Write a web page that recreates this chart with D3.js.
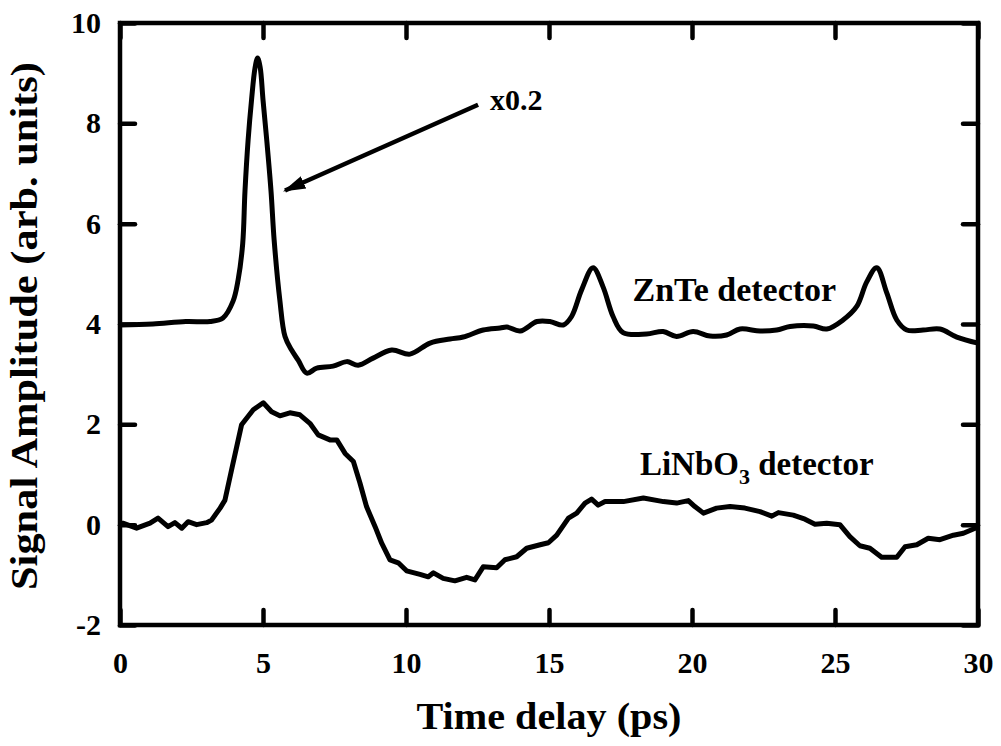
<!DOCTYPE html>
<html>
<head>
<meta charset="utf-8">
<script src="https://cdn.jsdelivr.net/npm/d3@7"></script>
<style>
  html, body { margin: 0; padding: 0; background: #fff; }
  svg text { font-family: "Liberation Serif", "Times New Roman", serif; font-weight: bold; fill: #000; }
</style>
</head>
<body>
<div id="chart"></div>
<script>
// ZnTe trace (shown offset by +4, peak scaled x0.2)
const znteTime = [0, 1.15, 2.3, 3.15, 3.6, 3.95, 4.13, 4.29, 4.37, 4.48, 4.6, 4.72, 4.81, 4.9, 5.0, 5.13, 5.28, 5.39, 5.59, 5.77,
  6.0, 6.23, 6.53, 6.88, 7.45, 7.93, 8.33, 8.85, 9.5, 10.14, 10.84, 11.54, 12.0, 12.7, 13.29, 13.53, 13.99, 14.58, 15.03, 15.5,
  15.79, 16.14, 16.54, 16.89, 17.24, 17.59, 18.41, 18.99, 19.46, 20.04, 20.63, 21.21, 21.68, 22.38, 22.96, 23.43, 24.24, 24.71,
  25.28, 25.76, 26.11, 26.46, 26.81, 27.16, 27.51, 28.08, 28.67, 29.26, 30];
const znteAmp = [3.98, 4.0, 4.05, 4.05, 4.12, 4.45, 4.88, 5.6, 6.65, 7.67, 8.47, 9.1, 9.3, 9.12, 8.47, 7.67, 6.65, 5.67, 4.47, 3.75,
  3.48, 3.28, 3.02, 3.12, 3.16, 3.25, 3.18, 3.32, 3.48, 3.4, 3.62, 3.7, 3.74, 3.88, 3.92, 3.94, 3.86, 4.05, 4.05, 3.98,
  4.15, 4.68, 5.12, 4.74, 4.15, 3.83, 3.8, 3.85, 3.75, 3.85, 3.76, 3.78, 3.9, 3.86, 3.88, 3.95, 3.96, 3.9,
  4.08, 4.35, 4.84, 5.12, 4.62, 4.08, 3.88, 3.88, 3.9, 3.74, 3.62];

// LiNbO3 trace
const linbTime = [0, 0.1, 0.58, 1.05, 1.33, 1.68, 1.92, 2.16, 2.38, 2.68, 3.03, 3.2, 3.5, 3.67, 3.9, 4.25, 4.66, 5.01, 5.3, 5.59,
  5.94, 6.29, 6.64, 6.93, 7.34, 7.58, 7.87, 8.16, 8.39, 8.62, 8.92, 9.15, 9.44, 9.73, 10.02, 10.49, 10.78, 10.96, 11.3, 11.71,
  12.12, 12.41, 12.7, 13.17, 13.46, 13.87, 14.22, 14.69, 14.98, 15.27, 15.68, 15.97, 16.26, 16.49, 16.72, 16.96, 17.6, 18.3,
  19.0, 19.46, 19.87, 20.1, 20.4, 20.86, 21.33, 21.85, 22.38, 22.79, 23.02, 23.54, 23.95, 24.3, 24.71, 25.17, 25.52, 25.87,
  26.22, 26.63, 27.16, 27.45, 27.86, 28.26, 28.67, 29.14, 29.49, 29.9, 30];
const linbAmp = [0.02, 0.03, -0.07, 0.03, 0.13, -0.04, 0.04, -0.07, 0.06, 0, 0.04, 0.09, 0.33, 0.49, 1.09, 1.99, 2.29, 2.43, 2.25, 2.17,
  2.23, 2.19, 2.02, 1.79, 1.69, 1.69, 1.42, 1.26, 0.83, 0.36, -0.04, -0.37, -0.7, -0.76, -0.92, -0.99, -1.04, -0.96, -1.07, -1.12,
  -1.05, -1.1, -0.84, -0.86, -0.7, -0.64, -0.47, -0.4, -0.36, -0.21, 0.13, 0.23, 0.43, 0.51, 0.39, 0.46, 0.46, 0.53,
  0.46, 0.43, 0.48, 0.36, 0.23, 0.33, 0.36, 0.33, 0.26, 0.17, 0.24, 0.19, 0.11, 0.01, 0.03, 0, -0.24, -0.42,
  -0.47, -0.65, -0.65, -0.44, -0.4, -0.27, -0.3, -0.21, -0.17, -0.07, -0.06];

const xTicks = [0, 5, 10, 15, 20, 25, 30];
const yTicks = [-2, 0, 2, 4, 6, 8, 10];

const width = 1001;
const height = 746;
const margin = { top: 23, right: 23, bottom: 121, left: 120 };
const innerW = width - margin.left - margin.right;
const innerH = height - margin.top - margin.bottom;
const tickLen = 15;
const axisStroke = 4.5;

const svg = d3.select('#chart').append('svg')
  .attr('width', width)
  .attr('height', height);

const g = svg.append('g').attr('transform', `translate(${margin.left},${margin.top})`);

const x = d3.scaleLinear().domain([0, 30]).range([0, innerW]);
const y = d3.scaleLinear().domain([-2, 10]).range([innerH, 0]);

/* ---- axes: ticks point inward on all four sides ---- */
function styleAxis(sel) {
  sel.select('.domain').remove();
  sel.selectAll('.tick line')
    .attr('stroke', '#000')
    .attr('stroke-width', axisStroke)
    .attr('stroke-linecap', 'round');
  sel.selectAll('.tick text').style('font-size', '30px');
}

const plain = (d) => String(d); // hyphen minus, like the original

g.append('g').attr('transform', `translate(0,${innerH})`)
  .call(d3.axisBottom(x).tickValues(xTicks).tickFormat(plain).tickSizeInner(-tickLen).tickSizeOuter(0).tickPadding(27))
  .call(styleAxis);

g.append('g')
  .call(d3.axisTop(x).tickValues(xTicks).tickSizeInner(-tickLen).tickSizeOuter(0).tickFormat(''))
  .call(styleAxis);

g.append('g')
  .call(d3.axisLeft(y).tickValues(yTicks).tickFormat(plain).tickSizeInner(-tickLen).tickSizeOuter(0).tickPadding(19))
  .call(styleAxis);

g.append('g').attr('transform', `translate(${innerW},0)`)
  .call(d3.axisRight(y).tickValues(yTicks).tickSizeInner(-tickLen).tickSizeOuter(0).tickFormat(''))
  .call(styleAxis);

// frame
g.append('rect')
  .attr('width', innerW)
  .attr('height', innerH)
  .attr('fill', 'none')
  .attr('stroke', '#000')
  .attr('stroke-width', axisStroke);

/* ---- traces ---- */
const znte = znteTime.map((t, i) => ({ t, v: znteAmp[i] }));
const linb = linbTime.map((t, i) => ({ t, v: linbAmp[i] }));

const smooth = d3.line().x((d) => x(d.t)).y((d) => y(d.v)).curve(d3.curveCatmullRom.alpha(0.5));
const rough = d3.line().x((d) => x(d.t)).y((d) => y(d.v));

g.append('path').datum(znte)
  .attr('d', smooth)
  .attr('fill', 'none')
  .attr('stroke', '#000')
  .attr('stroke-width', 5)
  .attr('stroke-linejoin', 'round');

g.append('path').datum(linb)
  .attr('d', rough)
  .attr('fill', 'none')
  .attr('stroke', '#000')
  .attr('stroke-width', 5)
  .attr('stroke-linejoin', 'round');

/* ---- annotations ---- */
svg.append('defs').append('marker')
  .attr('id', 'head')
  .attr('viewBox', '0 0 10 10')
  .attr('refX', 9)
  .attr('refY', 5)
  .attr('markerWidth', 5)
  .attr('markerHeight', 5)
  .attr('markerUnits', 'strokeWidth')
  .attr('orient', 'auto')
  .append('path')
  .attr('d', 'M0,2 L10,5 L0,8 Z')
  .attr('fill', '#000');

g.append('line')
  .attr('x1', x(12.52)).attr('y1', y(8.37))
  .attr('x2', x(5.77)).attr('y2', y(6.66))
  .attr('stroke', '#000')
  .attr('stroke-width', 4.5)
  .attr('marker-end', 'url(#head)');

g.append('text')
  .attr('x', x(12.94)).attr('y', y(8.26))
  .style('font-size', '30px')
  .text('x0.2');

g.append('text')
  .attr('x', x(17.92)).attr('y', y(4.45))
  .style('font-size', '34px')
  .text('ZnTe detector');

const lab = g.append('text')
  .attr('x', x(18.18)).attr('y', y(0.99))
  .style('font-size', '33px');
lab.append('tspan').text('LiNbO');
lab.append('tspan').attr('dy', 9).style('font-size', '22px').text('3');
lab.append('tspan').attr('dy', -9).text(' detector');

// axis titles
svg.append('text')
  .attr('x', margin.left + innerW / 2)
  .attr('y', 729)
  .attr('text-anchor', 'middle')
  .attr('textLength', 265)
  .attr('lengthAdjust', 'spacingAndGlyphs')
  .style('font-size', '37px')
  .text('Time delay (ps)');

svg.append('text')
  .attr('transform', `translate(37,${margin.top + innerH / 2 + 2}) rotate(-90)`)
  .attr('text-anchor', 'middle')
  .attr('textLength', 528)
  .attr('lengthAdjust', 'spacingAndGlyphs')
  .style('font-size', '37px')
  .text('Signal Amplitude (arb. units)');
</script>
</body>
</html>
